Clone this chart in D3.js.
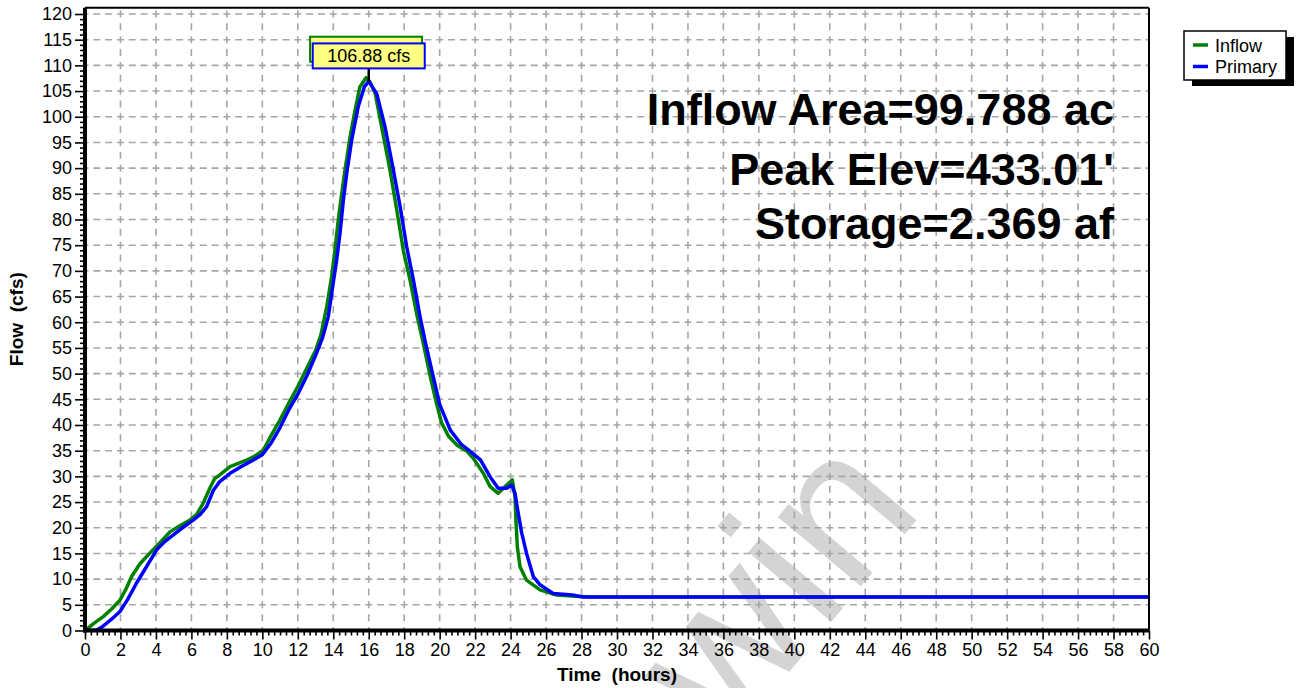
<!DOCTYPE html>
<html>
<head>
<meta charset="utf-8">
<script src="https://cdn.jsdelivr.net/npm/d3@7/dist/d3.min.js"></script>
<style>
  html, body { margin: 0; padding: 0; background: #fff; }
  svg { display: block; font-family: "Liberation Sans", Arial, sans-serif; }
</style>
</head>
<body>
<svg id="chart" width="1296" height="688"></svg>
<script>
// Hydrograph: pond inflow vs. primary outflow (cfs over hours)
const inflowHours = [0, 0.5, 1.03, 1.5, 1.97, 2.3, 2.63, 3.1, 3.67, 4.2, 4.79, 5.3, 5.92, 6.3, 6.67, 7.05, 7.3, 7.6, 8.18, 9.0, 9.5, 10.06, 10.5, 11.0, 11.5, 12.0, 12.5, 13.0, 13.3, 13.63, 13.91, 14.1, 14.28, 14.48, 14.66, 14.95, 15.23, 15.5, 15.85, 16.05, 16.36, 16.73, 17.2, 17.58, 17.95, 18.33, 18.7, 19.1, 19.5, 19.8, 20.1, 20.5, 21.0, 21.5, 21.9, 22.46, 22.85, 23.3, 23.78, 24.1, 24.25, 24.3, 24.38, 24.53, 24.9, 25.66, 26.6, 27.9, 28.5, 60];
const inflowCfs   = [0, 1.4, 2.7, 4.2, 5.9, 8.0, 10.5, 13.0, 15.1, 17.0, 19.2, 20.3, 21.5, 22.6, 24.8, 27.8, 29.5, 30.3, 31.9, 33.0, 33.8, 35.1, 38.0, 41.0, 44.3, 47.5, 51.0, 54.5, 57.5, 63.0, 68.9, 74.1, 79.9, 85.1, 89.6, 96.1, 101.3, 105.8, 107.6, 106.9, 104.6, 98.0, 89.6, 81.9, 74.0, 68.2, 61.7, 55.5, 49.0, 44.5, 40.5, 37.8, 36.0, 35.0, 33.5, 30.6, 28.0, 26.7, 28.3, 29.3, 26.0, 21.5, 16.3, 12.4, 9.8, 7.9, 6.9, 6.6, 6.5, 6.5];

const primaryHours = [0, 0.66, 1.0, 1.5, 1.97, 2.4, 2.9, 3.5, 4.04, 4.5, 4.98, 5.5, 6.1, 6.5, 6.86, 7.24, 7.6, 8.18, 8.7, 9.5, 10.0, 10.5, 11.0, 11.5, 12.0, 12.5, 13.0, 13.4, 13.72, 13.91, 14.19, 14.38, 14.57, 14.76, 15.04, 15.41, 15.75, 16.0, 16.45, 16.92, 17.39, 17.77, 18.14, 18.52, 18.9, 19.2, 19.6, 20.0, 20.6, 21.2, 21.6, 22.3, 22.85, 23.3, 23.78, 24.06, 24.25, 24.43, 24.63, 24.9, 25.28, 25.66, 26.4, 27.5, 28.1, 60];
const primaryCfs   = [0, 0.1, 0.8, 2.2, 3.7, 6.0, 9.2, 12.6, 15.7, 17.3, 18.6, 20.0, 21.5, 22.6, 24.1, 27.3, 29.0, 30.6, 31.7, 33.2, 34.2, 36.5, 39.5, 43.0, 46.0, 49.5, 53.5, 57.0, 61.1, 65.6, 72.1, 77.3, 83.8, 89.0, 95.5, 102.0, 105.8, 106.88, 104.5, 98.0, 89.6, 82.5, 74.7, 68.2, 61.0, 56.0, 50.0, 44.0, 39.0, 36.3, 35.2, 33.2, 29.9, 27.7, 27.7, 28.3, 26.7, 22.8, 18.9, 15.0, 10.5, 8.9, 7.2, 6.9, 6.5, 6.5];

const seriesNames  = ["Inflow", "Primary"];
const seriesColors = ["#008000", "#0000ff"];
const xTickValues = d3.range(0, 61, 2);
const yTickValues = d3.range(0, 121, 5);
const infoLines = ["Inflow Area=99.788 ac", "Peak Elev=433.01'", "Storage=2.369 af"];
const xTitle = "Time  (hours)";
const yTitle = "Flow  (cfs)";
const watermark = "win";

const svg = d3.select("#chart");

const x = d3.scaleLinear().domain([0, 60]).range([85, 1149]);
const y = d3.scaleLinear().domain([0, 120]).range([630.5, 14]);
const plotTop = y(121.2);
const plotLeft = x(0), plotRight = x(60), plotBottom = y(0);

// faint diagonal watermark, behind everything
svg.append("text")
  .attr("transform", `translate(925,510) rotate(-50)`)
  .attr("text-anchor", "end")
  .attr("font-size", 205)
  .attr("fill", "#d4d4d4")
  .text(watermark);

// dashed grid, dashes centred on each crossing
const xStep = x(2) - x(0);
const yStep = y(0) - y(5);
const grid = svg.append("g").attr("stroke", "#a6a6a6").attr("stroke-width", 1.6).attr("fill", "none");
const hPeriod = xStep / 3, hDash = 7;
grid.selectAll("line.h").data(yTickValues.filter(v => v > 0)).join("line")
  .attr("x1", plotLeft).attr("x2", plotRight)
  .attr("y1", d => y(d)).attr("y2", d => y(d))
  .attr("stroke-dasharray", `${hDash},${hPeriod - hDash}`)
  .attr("stroke-dashoffset", hDash / 2);
const vPeriod = yStep / 2, vDash = 7;
grid.selectAll("line.v").data(xTickValues.filter(v => v > 0 && v < 60)).join("line")
  .attr("x1", d => x(d)).attr("x2", d => x(d))
  .attr("y1", plotBottom).attr("y2", plotTop)
  .attr("stroke-dasharray", `${vDash},${vPeriod - vDash}`)
  .attr("stroke-dashoffset", vDash / 2);

// hydrograph lines
svg.append("clipPath").attr("id", "plotClip").append("rect")
  .attr("x", plotLeft).attr("y", plotTop).attr("width", plotRight - plotLeft).attr("height", plotBottom - plotTop);

const line = d3.line().x(d => x(d[0])).y(d => y(d[1]));
const inflowPts = inflowHours.map((t, i) => [t, inflowCfs[i]]);
const primaryPts = primaryHours.map((t, i) => [t, primaryCfs[i]]);
const lines = svg.append("g").attr("clip-path", "url(#plotClip)");
[inflowPts, primaryPts].forEach((pts, i) => {
  lines.append("path").datum(pts)
    .attr("d", line)
    .attr("fill", "none")
    .attr("stroke", seriesColors[i])
    .attr("stroke-width", 3.5)
    .attr("stroke-linejoin", "round");
});

// frame
svg.append("line").attr("x1", plotLeft).attr("x2", plotRight).attr("y1", plotTop).attr("y2", plotTop)
  .attr("stroke", "#000").attr("stroke-width", 2);
svg.append("line").attr("x1", plotRight).attr("x2", plotRight).attr("y1", plotTop).attr("y2", plotBottom)
  .attr("stroke", "#000").attr("stroke-width", 2);

// y axis with 1-unit minor ticks
const yAxis = svg.append("g").attr("transform", `translate(${plotLeft},0)`)
  .call(d3.axisLeft(y).tickValues(yTickValues).tickSize(10).tickPadding(3));
svg.append("g").attr("transform", `translate(${plotLeft},0)`)
  .call(d3.axisLeft(y).tickValues(d3.range(0, 121, 1).filter(v => v % 5)).tickSize(5).tickFormat(""))
  .call(g => g.select(".domain").remove());

// x axis with 20-minute minor ticks
const xAxis = svg.append("g").attr("transform", `translate(0,${plotBottom})`)
  .call(d3.axisBottom(x).tickValues(xTickValues).tickSize(9).tickPadding(4));
svg.append("g").attr("transform", `translate(0,${plotBottom})`)
  .call(d3.axisBottom(x).tickValues(d3.range(0, 181, 1).filter(v => v % 6).map(v => v / 3)).tickSize(5).tickFormat(""))
  .call(g => g.select(".domain").remove());

svg.selectAll(".tick line").attr("stroke", "#000").attr("stroke-width", 1.6);
[xAxis, yAxis].forEach(g => {
  g.select(".domain").attr("stroke", "#000").attr("stroke-width", 4);
  g.selectAll("text").attr("font-size", 18).attr("fill", "#000")
    .attr("font-family", "'Liberation Sans', Arial, sans-serif");
});
yAxis.select(".domain").attr("d", `M0,${plotBottom + 2}V${plotTop}`);
xAxis.select(".domain").attr("d", `M${plotLeft - 2},0H${plotRight}`);

// axis titles
svg.append("text")
  .attr("x", (plotLeft + plotRight) / 2).attr("y", 681)
  .attr("text-anchor", "middle").attr("font-weight", "bold").attr("font-size", 19)
  .style("white-space", "pre").text(xTitle);
svg.append("text")
  .attr("transform", `translate(23,${(plotTop + plotBottom) / 2}) rotate(-90)`)
  .attr("text-anchor", "middle").attr("font-weight", "bold").attr("font-size", 19)
  .style("white-space", "pre").text(yTitle);

// summary text block
const infoBaselines = [125, 185, 239];
svg.append("g").selectAll("text").data(infoLines).join("text")
  .attr("x", 1114).attr("y", (d, i) => infoBaselines[i])
  .attr("text-anchor", "end").attr("font-weight", "bold").attr("font-size", 45)
  .attr("fill", "#000").text(d => d);

// peak labels: inflow box sits behind the primary one
const boxW = 112, boxH = 25;
const inflowPeak = inflowPts.reduce((a, b) => b[1] > a[1] ? b : a);
const primaryPeak = primaryPts.reduce((a, b) => b[1] > a[1] ? b : a);
svg.append("rect")
  .attr("x", x(inflowPeak[0]) - boxW / 2).attr("y", y(inflowPeak[1]) - 13 - boxH - 3)
  .attr("width", boxW).attr("height", boxH)
  .attr("fill", "#ffff80").attr("stroke", seriesColors[0]).attr("stroke-width", 2);
const px = x(primaryPeak[0]), py = y(primaryPeak[1]);
svg.append("line").attr("x1", px).attr("x2", px).attr("y1", py - 13).attr("y2", py)
  .attr("stroke", "#000").attr("stroke-width", 2.5);
svg.append("rect")
  .attr("x", px - boxW / 2).attr("y", py - 13 - boxH)
  .attr("width", boxW).attr("height", boxH)
  .attr("fill", "#ffff80").attr("stroke", seriesColors[1]).attr("stroke-width", 2);
svg.append("text")
  .attr("x", px).attr("y", py - 13 - 6.5)
  .attr("text-anchor", "middle").attr("font-size", 18).attr("fill", "#000")
  .text(d3.format(".2f")(primaryPeak[1]) + " cfs");

// legend with drop shadow
const lg = svg.append("g").attr("transform", "translate(1184,31)");
lg.append("rect").attr("x", 8).attr("y", 6).attr("width", 102).attr("height", 49).attr("fill", "#000");
lg.append("rect").attr("x", 0).attr("y", 0).attr("width", 102).attr("height", 49)
  .attr("fill", "#fff").attr("stroke", "#000").attr("stroke-width", 1.5);
seriesNames.forEach((name, i) => {
  const cy = 14 + i * 21.5;
  lg.append("line").attr("x1", 9).attr("x2", 24).attr("y1", cy).attr("y2", cy)
    .attr("stroke", seriesColors[i]).attr("stroke-width", 3.5);
  lg.append("text").attr("x", 31).attr("y", cy + 6.5).attr("font-size", 18).attr("fill", "#000").text(name);
});
</script>
</body>
</html>
